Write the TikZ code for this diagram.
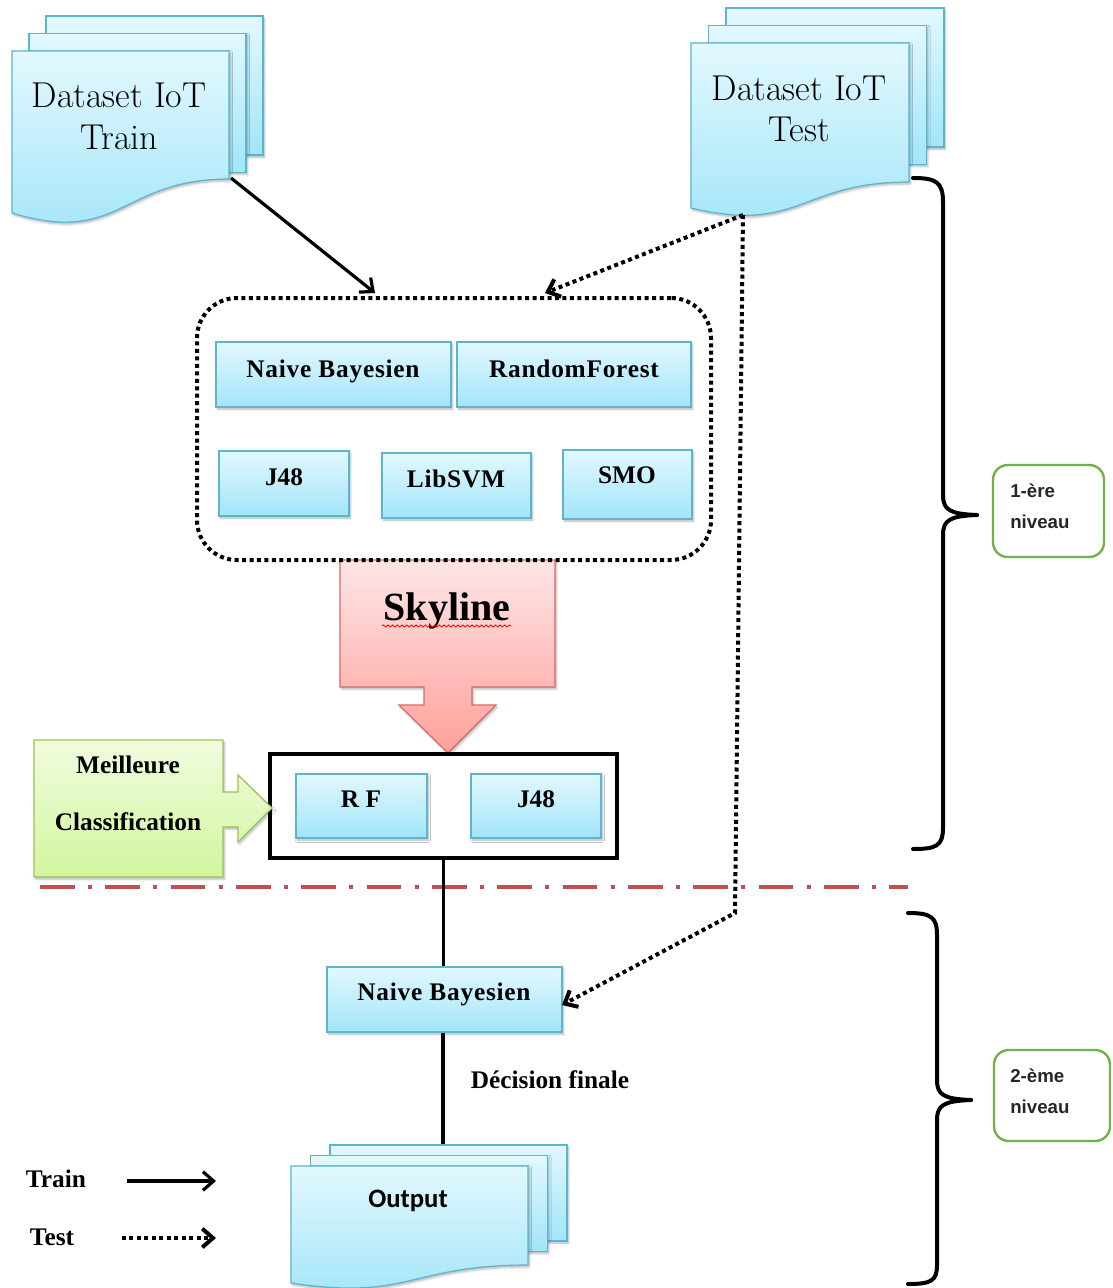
\documentclass[tikz,border=0pt]{standalone}
\usepackage{fontspec}
\newfontfamily\tnrfont{Liberation Serif}
\newfontfamily\carlfont{Carlito}
\newfontfamily\arialfont{Liberation Sans}
\usetikzlibrary{arrows.meta,shadows.blur,decorations.pathmorphing,fit}

\definecolor{bluetop}{HTML}{E2F8FE}
\definecolor{bluebot}{HTML}{A2E5F9}
\definecolor{docedge}{HTML}{5BB5CF}
\definecolor{pinktop}{HTML}{FEE6E6}
\definecolor{pinkbot}{HTML}{FFA09B}
\definecolor{pinkedge}{HTML}{D66C69}
\definecolor{greentop}{HTML}{F1FCDE}
\definecolor{greenbot}{HTML}{D2F59E}
\definecolor{greenedge}{HTML}{9BC25C}
\definecolor{levelgreen}{HTML}{72B14B}
\definecolor{sepred}{HTML}{C0504D}

% stack of three pages: x, y (top-left of front page), width, right depth,
% left depth, back page height, wave control depth, page offset x, page offset y
\newcommand{\docstack}[9]{%
  \path[docpage] ({#1+2*(#8)},{#2-2*(#9)}) rectangle ++(#3,#6);
  \path[docpage] ({#1+#8},{#2-#9}) rectangle ++(#3,#6);
  \path[docpage] (#1,#2) -- ({#1+#3},#2) -- ({#1+#3},{#2+#4})
     .. controls ({#1+0.5*(#3)},{#2+#4}) and ({#1+0.5*(#3)},{#2+#7}) .. (#1,{#2+#5}) -- cycle;
}

\begin{document}
\begin{tikzpicture}[x=0.75pt,y=-0.75pt,
  softshadow/.style={blur shadow={shadow xshift=1pt,shadow yshift=-1.5pt,shadow blur steps=4,shadow opacity=30}},
  docpage/.style={draw=docedge,line width=0.9pt,top color=bluetop,bottom color=bluebot,softshadow},
  algbox/.style={draw=docedge,line width=0.9pt,top color=bluetop,bottom color=bluebot,softshadow,inner sep=0pt},
  lbl/.style={font=\tnrfont\bfseries\fontsize{19}{22}\selectfont,anchor=base,inner sep=0pt},
  widelbl/.style={lbl,font=\tnrfont\bfseries\fontsize{19}{22}\selectfont\addfontfeatures{LetterSpace=3}},
  doclbl/.style={font=\fontsize{27}{32}\selectfont,anchor=base,inner sep=0pt},
  lvltxt/.style={font=\arialfont\bfseries\fontsize{14}{17}\selectfont,anchor=base west,inner sep=0pt,text=black!85},
  levelbox/.style={draw=levelgreen,line width=1.8pt,rounded corners=11pt,inner sep=0pt},
  dotline/.style={line width=3pt,dash pattern=on 3pt off 2.6pt},
  trainarrow/.style={line width=2.4pt,-{Straight Barb[length=8pt,width=14pt]}},
  testarrow/.style={dotline,-{Straight Barb[length=8pt,width=14pt]}},
  brace/.style={line width=3pt,line cap=round},
  link/.style={line width=2.6pt}]
\useasboundingbox (0,0) rectangle (1113,1288);

% document stacks
\docstack{12}{51}{217}{128}{162}{139}{195}{17}{17.5}
\node[doclbl] (trainA) at (119,108) {Dataset IoT};
\node[doclbl] (trainB) at (119,149) {Train};

\docstack{691}{43}{218}{139}{165}{139}{191}{17.5}{17.5}
\node[doclbl] (testA) at (799,100) {Dataset IoT};
\node[doclbl] (testB) at (799,141) {Test};

% Skyline selection arrow
\path[draw=pinkedge,line width=0.9pt,top color=pinktop,bottom color=pinkbot,softshadow]
  (340,560) -- (555,560) -- (555,687) -- (472,687) -- (472,705) -- (496,705)
  -- (448,753) -- (399,705) -- (424,705) -- (424,687) -- (340,687) -- cycle;
\node[font=\tnrfont\bfseries\fontsize{30}{34}\selectfont,anchor=base,inner sep=0pt] (sky) at (447,620) {Skyline};
\draw[red,line width=0.6pt,decorate,decoration={snake,amplitude=0.8pt,segment length=3.5pt}] (382,626) -- (511,626);

% first-level classifiers
\node[draw,dotline,rounded corners=30pt,inner sep=0pt,fit={(197,298)(711,560)}] (clsbox) {};
\node[algbox,fit={(216,342)(451,407)}] (nbA) {};
\node[widelbl] (nbAt) at (333,377) {Naive Bayesien};
\node[algbox,fit={(457,342)(691,407)}] (rfA) {};
\node[widelbl] (rfAt) at (574,377) {RandomForest};
\node[algbox,fit={(219,451)(349,516)}] (j48A) {};
\node[lbl] (j48At) at (284,485) {J48};
\node[algbox,fit={(382,453)(531,518)}] (svmA) {};
\node[widelbl] (svmAt) at (456,487) {LibSVM};
\node[algbox,fit={(563,450)(692,519)}] (smoA) {};
\node[lbl] (smoAt) at (627,483) {SMO};

% selected classifiers
\node[draw,line width=2.4pt,fill=white,inner sep=0pt,fit={(270,754)(617,858)}] (selbox) {};
\node[algbox,fit={(296,774)(427,838)}] (rfB) {};
\node[lbl] (rfBt) at (361,807) {R F};
\node[algbox,fit={(471,774)(601,838)}] (j48B) {};
\node[lbl] (j48Bt) at (536,807) {J48};

% best classification callout
\path[draw=greenedge,line width=0.9pt,top color=greentop,bottom color=greenbot,softshadow]
  (34,740) -- (223,740) -- (223,792) -- (238,792) -- (238,775) -- (272,808)
  -- (238,842) -- (238,827) -- (223,827) -- (223,877) -- (34,877) -- cycle;
\node[lbl] (bestA) at (128,773) {Meilleure};
\node[lbl] (bestB) at (128,830) {Classification};

% separator between the two levels
\coordinate (sepL) at (40,887);
\coordinate (sepR) at (908,887);
\draw[sepred,line width=3.6pt,dash pattern=on 26pt off 10pt on 3pt off 10pt] (sepL) -- (sepR);

% second level
\node[algbox,fit={(327,967)(562,1032)}] (nbB) {};
\node[widelbl] (nbBt) at (444,1000) {Naive Bayesien};
\node[lbl] (decide) at (550,1088) {Décision finale};

\coordinate (outTop) at (443,1145);
\draw[link] (selbox.south) -- (selbox.south |- nbB.north);
\draw[link] (nbB.south -| outTop) -- (outTop);

\docstack{291}{1166}{237}{99}{117}{96}{135}{19.5}{10.5}
\node[font=\carlfont\bfseries\fontsize{20}{24}\selectfont,anchor=base,inner sep=0pt] (outLbl) at (408,1207) {Output};

% connectors from the datasets
\coordinate (trainOut) at (231,178);
\coordinate (trainIn) at (375,293);
\coordinate (testOut) at (743,215);
\coordinate (testIn) at (545,293);
\coordinate (testBend) at (735,913);
\coordinate (testIn2) at (562,1005);
\draw[trainarrow] (trainOut) -- (trainIn);
\draw[testarrow] (testOut) -- (testIn);
\draw[testarrow] (testOut) -- (testBend) -- (testIn2);

% level braces
\draw[brace] (913,178) .. controls (936,178) and (943,182) .. (943,202) -- (943,495)
  .. controls (943,510) and (950,514) .. (977,515);
\draw[brace] (977,515) .. controls (950,516) and (943,520) .. (943,535) -- (943,828)
  .. controls (943,846) and (936,849) .. (913,849);
\draw[brace] (908,913) .. controls (931,913) and (937,917) .. (937,935) -- (937,1080)
  .. controls (937,1095) and (944,1099) .. (971,1100);
\draw[brace] (971,1100) .. controls (944,1101) and (937,1105) .. (937,1120) -- (937,1265)
  .. controls (937,1281) and (931,1284) .. (908,1284);

\node[levelbox,fit={(993,465)(1104,557)}] (lvl1) {};
\node[lvltxt] (lvl1a) at (1010,497) {1-ère};
\node[lvltxt] (lvl1b) at (1010,528) {niveau};
\node[levelbox,fit={(994,1050)(1110,1141)}] (lvl2) {};
\node[lvltxt] (lvl2a) at (1010,1082) {2-ème};
\node[lvltxt] (lvl2b) at (1010,1113) {niveau};

% legend
\node[lbl] (lgTrain) at (56,1187) {Train};
\node[lbl] (lgTest) at (52,1245) {Test};
\coordinate (lgTrainA) at (127,1181);
\coordinate (lgTrainB) at (216,1181);
\coordinate (lgTestA) at (122,1238);
\coordinate (lgTestB) at (216,1238);
\draw[trainarrow] (lgTrainA) -- (lgTrainB);
\draw[testarrow] (lgTestA) -- (lgTestB);
\end{tikzpicture}
\end{document}
